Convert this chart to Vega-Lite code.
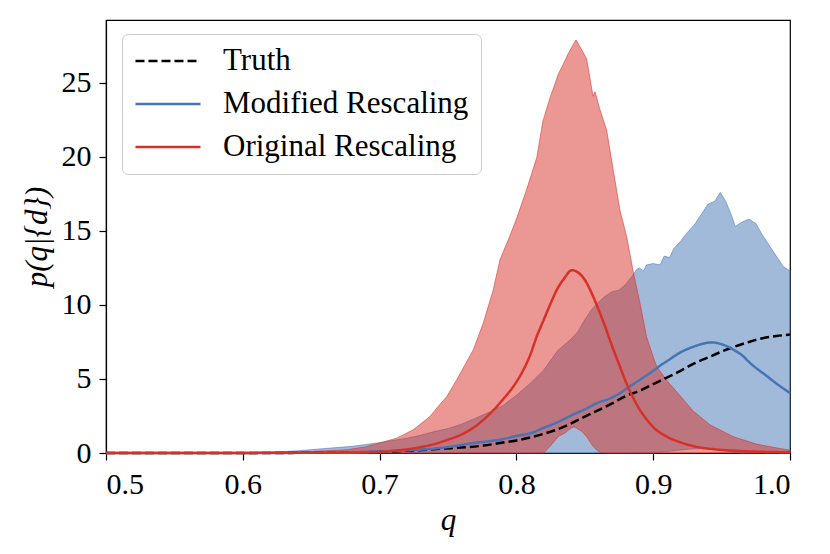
{
  "$schema": "https://vega.github.io/schema/vega-lite/v6.json",
  "width": 684,
  "height": 433,
  "autosize": {"type": "none"},
  "padding": {"left": 106, "top": 20, "right": 40, "bottom": 101},
  "background": "white",
  "datasets": {
    "modified_band": [
      {"q": 0.5, "hi": 0, "lo": 0},
      {"q": 0.6, "hi": 0, "lo": 0},
      {"q": 0.62, "hi": 0.05, "lo": 0},
      {"q": 0.64, "hi": 0.15, "lo": 0},
      {"q": 0.66, "hi": 0.3, "lo": 0},
      {"q": 0.68, "hi": 0.45, "lo": 0},
      {"q": 0.7, "hi": 0.7, "lo": 0},
      {"q": 0.71, "hi": 0.85, "lo": 0},
      {"q": 0.72, "hi": 1.0, "lo": 0},
      {"q": 0.73, "hi": 1.2, "lo": 0},
      {"q": 0.74, "hi": 1.45, "lo": 0},
      {"q": 0.75, "hi": 1.65, "lo": 0},
      {"q": 0.76, "hi": 1.95, "lo": 0},
      {"q": 0.77, "hi": 2.35, "lo": 0},
      {"q": 0.78, "hi": 2.75, "lo": 0},
      {"q": 0.79, "hi": 3.2, "lo": 0},
      {"q": 0.8, "hi": 3.9, "lo": 0},
      {"q": 0.81, "hi": 4.7, "lo": 0},
      {"q": 0.82, "hi": 5.6, "lo": 0},
      {"q": 0.83, "hi": 6.9, "lo": 0},
      {"q": 0.84, "hi": 7.7, "lo": 0},
      {"q": 0.845, "hi": 8.2, "lo": 0},
      {"q": 0.85, "hi": 9.0, "lo": 0},
      {"q": 0.855, "hi": 9.7, "lo": 0},
      {"q": 0.86, "hi": 10.2, "lo": 0},
      {"q": 0.865, "hi": 10.6, "lo": 0},
      {"q": 0.87, "hi": 10.9, "lo": 0},
      {"q": 0.875, "hi": 11.0, "lo": 0},
      {"q": 0.88, "hi": 11.4, "lo": 0},
      {"q": 0.885, "hi": 12.0, "lo": 0},
      {"q": 0.888, "hi": 12.4, "lo": 0},
      {"q": 0.89, "hi": 12.5, "lo": 0},
      {"q": 0.893, "hi": 12.3, "lo": 0},
      {"q": 0.895, "hi": 12.7, "lo": 0},
      {"q": 0.9, "hi": 12.8, "lo": 0},
      {"q": 0.905, "hi": 12.7, "lo": 0.05},
      {"q": 0.908, "hi": 13.3, "lo": 0.08},
      {"q": 0.912, "hi": 13.2, "lo": 0.12},
      {"q": 0.915, "hi": 13.8, "lo": 0.15},
      {"q": 0.92, "hi": 14.3, "lo": 0.2},
      {"q": 0.925, "hi": 14.9, "lo": 0.25},
      {"q": 0.93, "hi": 15.4, "lo": 0.28},
      {"q": 0.935, "hi": 16.1, "lo": 0.3},
      {"q": 0.94, "hi": 16.8, "lo": 0.28},
      {"q": 0.945, "hi": 17.0, "lo": 0.24},
      {"q": 0.949, "hi": 17.6, "lo": 0.2},
      {"q": 0.953, "hi": 17.0, "lo": 0.14},
      {"q": 0.957, "hi": 16.1, "lo": 0.08},
      {"q": 0.96, "hi": 15.3, "lo": 0.04},
      {"q": 0.965, "hi": 15.6, "lo": 0},
      {"q": 0.97, "hi": 15.8, "lo": 0},
      {"q": 0.975, "hi": 15.5, "lo": 0},
      {"q": 0.98, "hi": 14.7, "lo": 0},
      {"q": 0.985, "hi": 14.0, "lo": 0},
      {"q": 0.99, "hi": 13.3, "lo": 0},
      {"q": 0.995, "hi": 12.6, "lo": 0},
      {"q": 1.0, "hi": 12.3, "lo": 0}
    ],
    "original_band": [
      {"q": 0.5, "hi": 0, "lo": 0},
      {"q": 0.6, "hi": 0, "lo": 0},
      {"q": 0.627, "hi": 0.05, "lo": 0},
      {"q": 0.65, "hi": 0.1, "lo": 0},
      {"q": 0.676, "hi": 0.22, "lo": 0},
      {"q": 0.69, "hi": 0.42, "lo": 0},
      {"q": 0.7, "hi": 0.68, "lo": 0},
      {"q": 0.7125, "hi": 1.0, "lo": 0},
      {"q": 0.7246, "hi": 1.57, "lo": 0},
      {"q": 0.7368, "hi": 2.47, "lo": 0},
      {"q": 0.7442, "hi": 3.3, "lo": 0},
      {"q": 0.749, "hi": 3.8, "lo": 0},
      {"q": 0.7564, "hi": 4.95, "lo": 0},
      {"q": 0.7685, "hi": 6.98, "lo": 0},
      {"q": 0.7758, "hi": 8.78, "lo": 0},
      {"q": 0.783, "hi": 11.0, "lo": 0},
      {"q": 0.788, "hi": 13.05, "lo": 0},
      {"q": 0.795, "hi": 14.6, "lo": 0},
      {"q": 0.8, "hi": 15.8, "lo": 0},
      {"q": 0.8075, "hi": 17.8, "lo": 0},
      {"q": 0.815, "hi": 20.0, "lo": 0},
      {"q": 0.8195, "hi": 22.5, "lo": 0},
      {"q": 0.82, "hi": 22.6, "lo": 0},
      {"q": 0.8246, "hi": 24.0, "lo": 0.45},
      {"q": 0.8307, "hi": 25.6, "lo": 1.12},
      {"q": 0.8355, "hi": 26.5, "lo": 1.35},
      {"q": 0.838, "hi": 27.0, "lo": 1.55},
      {"q": 0.8416, "hi": 27.6, "lo": 1.76},
      {"q": 0.8436, "hi": 27.9, "lo": 1.7},
      {"q": 0.848, "hi": 27.2, "lo": 1.45},
      {"q": 0.8514, "hi": 26.6, "lo": 1.1},
      {"q": 0.856, "hi": 24.1, "lo": 0.45},
      {"q": 0.8575, "hi": 24.4, "lo": 0.3},
      {"q": 0.861, "hi": 23.2, "lo": 0.05},
      {"q": 0.866, "hi": 21.8, "lo": 0},
      {"q": 0.8708, "hi": 19.1, "lo": 0},
      {"q": 0.8757, "hi": 16.4, "lo": 0},
      {"q": 0.8806, "hi": 14.6, "lo": 0},
      {"q": 0.8855, "hi": 12.2, "lo": 0},
      {"q": 0.8904, "hi": 10.1, "lo": 0},
      {"q": 0.895, "hi": 7.9, "lo": 0},
      {"q": 0.9, "hi": 6.5, "lo": 0},
      {"q": 0.9025, "hi": 5.85, "lo": 0},
      {"q": 0.91, "hi": 4.9, "lo": 0},
      {"q": 0.917, "hi": 4.15, "lo": 0},
      {"q": 0.929, "hi": 2.85, "lo": 0},
      {"q": 0.9415, "hi": 1.9, "lo": 0},
      {"q": 0.9586, "hi": 1.1, "lo": 0},
      {"q": 0.9756, "hi": 0.6, "lo": 0},
      {"q": 0.9927, "hi": 0.3, "lo": 0},
      {"q": 1.0, "hi": 0.2, "lo": 0}
    ],
    "curves": [
      {"series": "Truth", "q": 0.5, "v": 0},
      {"series": "Truth", "q": 0.65, "v": 0.01},
      {"series": "Truth", "q": 0.7, "v": 0.08},
      {"series": "Truth", "q": 0.72, "v": 0.15},
      {"series": "Truth", "q": 0.744, "v": 0.28},
      {"series": "Truth", "q": 0.7758, "v": 0.5},
      {"series": "Truth", "q": 0.793, "v": 0.75},
      {"series": "Truth", "q": 0.8, "v": 0.85},
      {"series": "Truth", "q": 0.81, "v": 1.05},
      {"series": "Truth", "q": 0.82, "v": 1.3},
      {"series": "Truth", "q": 0.83, "v": 1.6},
      {"series": "Truth", "q": 0.84, "v": 2.0},
      {"series": "Truth", "q": 0.85, "v": 2.45},
      {"series": "Truth", "q": 0.86, "v": 2.9},
      {"series": "Truth", "q": 0.87, "v": 3.35},
      {"series": "Truth", "q": 0.88, "v": 3.85},
      {"series": "Truth", "q": 0.89, "v": 4.2},
      {"series": "Truth", "q": 0.9, "v": 4.65},
      {"series": "Truth", "q": 0.91, "v": 5.1},
      {"series": "Truth", "q": 0.92, "v": 5.55},
      {"series": "Truth", "q": 0.93, "v": 6.05},
      {"series": "Truth", "q": 0.94, "v": 6.45},
      {"series": "Truth", "q": 0.95, "v": 6.85},
      {"series": "Truth", "q": 0.96, "v": 7.2},
      {"series": "Truth", "q": 0.97, "v": 7.5},
      {"series": "Truth", "q": 0.98, "v": 7.75},
      {"series": "Truth", "q": 0.99, "v": 7.9},
      {"series": "Truth", "q": 1.0, "v": 8.0},
      {"series": "Modified Rescaling", "q": 0.5, "v": 0},
      {"series": "Modified Rescaling", "q": 0.65, "v": 0.01},
      {"series": "Modified Rescaling", "q": 0.7, "v": 0.1},
      {"series": "Modified Rescaling", "q": 0.72, "v": 0.18},
      {"series": "Modified Rescaling", "q": 0.744, "v": 0.33},
      {"series": "Modified Rescaling", "q": 0.75, "v": 0.4},
      {"series": "Modified Rescaling", "q": 0.7685, "v": 0.67},
      {"series": "Modified Rescaling", "q": 0.788, "v": 0.9},
      {"series": "Modified Rescaling", "q": 0.8, "v": 1.15},
      {"series": "Modified Rescaling", "q": 0.8124, "v": 1.4},
      {"series": "Modified Rescaling", "q": 0.8173, "v": 1.6},
      {"series": "Modified Rescaling", "q": 0.8294, "v": 2.05},
      {"series": "Modified Rescaling", "q": 0.8416, "v": 2.6},
      {"series": "Modified Rescaling", "q": 0.85, "v": 2.95},
      {"series": "Modified Rescaling", "q": 0.861, "v": 3.45},
      {"series": "Modified Rescaling", "q": 0.866, "v": 3.6},
      {"series": "Modified Rescaling", "q": 0.875, "v": 4.0},
      {"series": "Modified Rescaling", "q": 0.883, "v": 4.5},
      {"series": "Modified Rescaling", "q": 0.8904, "v": 4.95},
      {"series": "Modified Rescaling", "q": 0.9, "v": 5.55},
      {"series": "Modified Rescaling", "q": 0.905, "v": 5.9},
      {"series": "Modified Rescaling", "q": 0.91, "v": 6.2},
      {"series": "Modified Rescaling", "q": 0.92, "v": 6.8},
      {"series": "Modified Rescaling", "q": 0.93, "v": 7.2},
      {"series": "Modified Rescaling", "q": 0.9427, "v": 7.47},
      {"series": "Modified Rescaling", "q": 0.95, "v": 7.35},
      {"series": "Modified Rescaling", "q": 0.9586, "v": 6.98},
      {"series": "Modified Rescaling", "q": 0.965, "v": 6.6},
      {"series": "Modified Rescaling", "q": 0.9708, "v": 6.08},
      {"series": "Modified Rescaling", "q": 0.983, "v": 5.2},
      {"series": "Modified Rescaling", "q": 0.99, "v": 4.7},
      {"series": "Modified Rescaling", "q": 1.0, "v": 4.05},
      {"series": "Original Rescaling", "q": 0.5, "v": 0},
      {"series": "Original Rescaling", "q": 0.68, "v": 0.02},
      {"series": "Original Rescaling", "q": 0.7, "v": 0.08},
      {"series": "Original Rescaling", "q": 0.72, "v": 0.25},
      {"series": "Original Rescaling", "q": 0.73, "v": 0.4},
      {"series": "Original Rescaling", "q": 0.74, "v": 0.6},
      {"series": "Original Rescaling", "q": 0.75, "v": 0.9},
      {"series": "Original Rescaling", "q": 0.76, "v": 1.25},
      {"series": "Original Rescaling", "q": 0.77, "v": 1.8},
      {"series": "Original Rescaling", "q": 0.78, "v": 2.6},
      {"series": "Original Rescaling", "q": 0.79, "v": 3.6},
      {"series": "Original Rescaling", "q": 0.8, "v": 4.8},
      {"series": "Original Rescaling", "q": 0.805, "v": 5.6},
      {"series": "Original Rescaling", "q": 0.81, "v": 6.6},
      {"series": "Original Rescaling", "q": 0.815, "v": 7.9},
      {"series": "Original Rescaling", "q": 0.82, "v": 9.0},
      {"series": "Original Rescaling", "q": 0.825, "v": 10.1},
      {"series": "Original Rescaling", "q": 0.83, "v": 11.1},
      {"series": "Original Rescaling", "q": 0.835, "v": 11.8},
      {"series": "Original Rescaling", "q": 0.8405, "v": 12.35},
      {"series": "Original Rescaling", "q": 0.845, "v": 12.2},
      {"series": "Original Rescaling", "q": 0.85, "v": 11.7},
      {"series": "Original Rescaling", "q": 0.855, "v": 10.8},
      {"series": "Original Rescaling", "q": 0.86, "v": 9.7},
      {"series": "Original Rescaling", "q": 0.865, "v": 8.5},
      {"series": "Original Rescaling", "q": 0.87, "v": 7.2},
      {"series": "Original Rescaling", "q": 0.875, "v": 6.0},
      {"series": "Original Rescaling", "q": 0.88, "v": 4.8},
      {"series": "Original Rescaling", "q": 0.885, "v": 3.8},
      {"series": "Original Rescaling", "q": 0.89, "v": 2.95},
      {"series": "Original Rescaling", "q": 0.895, "v": 2.3},
      {"series": "Original Rescaling", "q": 0.9, "v": 1.75},
      {"series": "Original Rescaling", "q": 0.91, "v": 1.1},
      {"series": "Original Rescaling", "q": 0.92, "v": 0.72},
      {"series": "Original Rescaling", "q": 0.93, "v": 0.45},
      {"series": "Original Rescaling", "q": 0.945, "v": 0.25},
      {"series": "Original Rescaling", "q": 0.96, "v": 0.15},
      {"series": "Original Rescaling", "q": 0.98, "v": 0.08},
      {"series": "Original Rescaling", "q": 1.0, "v": 0.05}
    ]
  },
  "encoding": {
    "x": {
      "field": "q",
      "type": "quantitative",
      "scale": {"domain": [0.5, 1.0], "nice": false, "zero": false},
      "axis": {
        "title": "q",
        "values": [0.5, 0.6, 0.7, 0.8, 0.9, 1.0],
        "format": ".1f",
        "labelFont": "Liberation Serif",
        "titleFont": "Liberation Serif",
        "labelPadding": 9,
        "titlePadding": 6,
        "titleFontStyle": "italic"
      }
    }
  },
  "layer": [
    {
      "data": {"name": "modified_band"},
      "mark": {
        "type": "area",
        "fill": "#4575b4",
        "fillOpacity": 0.5,
        "stroke": "#4575b4",
        "strokeOpacity": 0.55,
        "strokeWidth": 1
      },
      "encoding": {
        "y": {
          "field": "hi",
          "type": "quantitative",
          "scale": {"domain": [0, 29.25], "nice": false},
          "axis": {
            "title": "p(q|{d})",
            "values": [0, 5, 10, 15, 20, 25],
            "labelFont": "Liberation Serif",
            "titleFont": "Liberation Serif",
            "labelPadding": 8,
            "titlePadding": 8,
            "titleFontStyle": "italic"
          }
        },
        "y2": {"field": "lo"}
      }
    },
    {
      "data": {"name": "original_band"},
      "mark": {
        "type": "area",
        "fill": "#d73027",
        "fillOpacity": 0.5,
        "stroke": "#d73027",
        "strokeOpacity": 0.55,
        "strokeWidth": 1
      },
      "encoding": {
        "y": {"field": "hi", "type": "quantitative"},
        "y2": {"field": "lo"}
      }
    },
    {
      "data": {"name": "curves"},
      "mark": {"type": "line", "strokeWidth": 2.5, "interpolate": "monotone"},
      "encoding": {
        "y": {"field": "v", "type": "quantitative"},
        "color": {
          "field": "series",
          "type": "nominal",
          "sort": null,
          "scale": {
            "domain": ["Truth", "Modified Rescaling", "Original Rescaling"],
            "range": ["#000000", "#4575b4", "#d73027"]
          },
          "legend": {"title": null}
        },
        "strokeDash": {
          "field": "series",
          "type": "nominal",
          "sort": null,
          "scale": {
            "domain": ["Truth", "Modified Rescaling", "Original Rescaling"],
            "range": [[9, 4], [1, 0], [1, 0]]
          },
          "legend": {"title": null}
        }
      }
    }
  ],
  "config": {
    "font": "Liberation Serif",
    "view": {"stroke": "#000000", "strokeWidth": 1.2},
    "style": {
      "guide-label": {"font": "Liberation Serif"},
      "guide-title": {"font": "Liberation Serif"}
    },
    "axis": {
      "grid": false,
      "domainColor": "#000000",
      "domainWidth": 1.2,
      "tickColor": "#000000",
      "tickWidth": 1.2,
      "tickSize": 7,
      "labelFontSize": 30,
      "labelColor": "#000000",
      "titleFontSize": 31,
      "titleFontWeight": "normal",
      "titleColor": "#000000"
    },
    "legend": {
      "orient": "none",
      "legendX": 16,
      "legendY": 14,
      "fillColor": "rgba(255,255,255,0.8)",
      "strokeColor": "#cccccc",
      "cornerRadius": 6,
      "padding": 12,
      "symbolType": "stroke",
      "symbolSize": 4225,
      "symbolStrokeWidth": 2.5,
      "labelFont": "Liberation Serif",
      "labelFontSize": 31,
      "labelLimit": 400,
      "labelColor": "#000000",
      "labelOffset": 21,
      "clipHeight": 30,
      "rowPadding": 12
    }
  }
}
